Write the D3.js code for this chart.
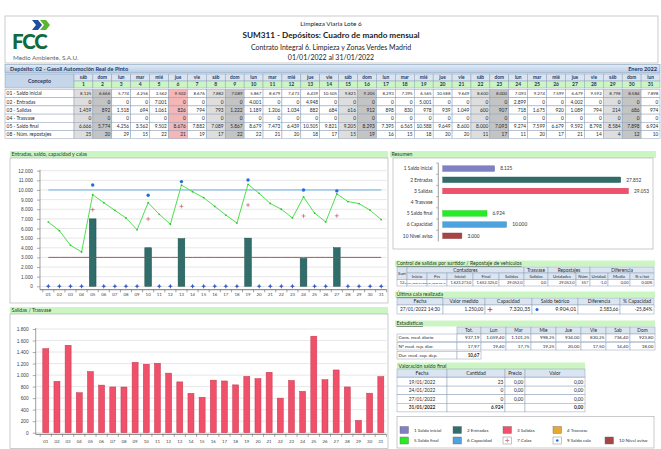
<!DOCTYPE html>
<html>
<head>
<meta charset="utf-8">
<script src="https://cdn.jsdelivr.net/npm/d3@7"></script>
<style>
html, body { margin: 0; padding: 0; background: #fff; }
svg { display: block; font-family: Lato, "Open Sans", "DejaVu Sans", sans-serif; }
</style>
</head>
<body>
<svg id="panel" width="661" height="449"></svg>
<script>
// ---- Datos del mes ----
const dias = [1,2,3,4,5,6,7,8,9,10,11,12,13,14,15,16,17,18,19,20,21,22,23,24,25,26,27,28,29,30,31];
const diasSemana = ["sáb","dom","lun","mar","mié","jue","vie","sáb","dom","lun","mar","mié","jue","vie","sáb","dom","lun","mar","mié","jue","vie","sáb","dom","lun","mar","mié","jue","vie","sáb","dom","lun"];
const festivos = [6];
const saldoInicial = [8125,6666,5774,4256,3562,9502,8676,7882,7089,5867,8679,7473,6439,10505,9821,9205,8293,7395,6565,10588,9649,8600,8000,7093,9274,7599,6679,9592,8798,8584,7898];
const entradas = [0,0,0,0,7001,0,0,0,0,4001,0,0,4948,0,0,0,0,0,5001,0,0,0,0,2899,0,0,4002,0,0,0,0];
const salidas = [1459,892,1518,694,1061,826,794,793,1222,1189,1206,1034,882,684,616,912,898,830,978,939,1049,600,907,718,1675,920,1089,794,214,686,974];
const trasvase = [0,0,0,0,0,0,0,0,0,0,0,0,0,0,0,0,0,0,0,0,0,0,0,0,0,0,0,0,0,0,0];
const saldoFinal = [6666,5774,4256,3562,9502,8676,7882,7089,5867,8679,7473,6439,10505,9821,9205,8293,7395,6565,10588,9649,8600,8000,7093,9274,7599,6679,9592,8798,8584,7898,6924];
const repostajes = [25,20,29,15,22,21,19,17,22,22,21,20,18,17,15,19,16,15,18,20,20,11,17,11,20,17,21,14,4,12,10];
const capacidad = 10000;
const nivelAviso = 3000;

// Calas: día, valor medido (+) y saldo teórico (•)
const diasCala = [5,10,13,19,24,27];
const valorCala = [7960,6990,8300,8440,7300,7320];
const saldoCala = [10520,9450,10870,11040,10000,9904];

const ticksTop = [0,1000,2000,3000,4000,5000,6000,7000,8000,9000,10000,11000,12000];
const ticksBottom = [0,200,400,600,800,1000,1200,1400,1600,1800];

const resumenEtiquetas = ["1 Saldo inicial","2 Entradas","3 Salidas","4 Trasvase","5 Saldo final","6 Capacidad","10 Nivel aviso"];
const resumenValores = [8125,27852,29053,0,6924,10000,3000];
const resumenColores = ["#8080c4","#2f6e6b","#f0506a","#e8a830","#22ee22","#4ea3df","#a84444"];

const controlCab1 = [["Contadores",1,6],["Trasvase",6,7],["Repostajes",7,9],["Diferencia",9,12]];
const controlCab2 = ["Inicio","Fin","Inicial","Final","Salidas","Salidas","Unidades","Núm","Unidad.","Media","% s/tot"];
const controlFila = ["12","01/01/2022 01:01","31/01/2022 06:46","1.623.273,0","1.652.325,0","29.052,0","0,0","29.053,0","557","-1,0","0,00","0,00%"];

const calaCab = ["Fecha","Valor medido","Capacidad","Saldo teórico","Diferencia","% Capacidad"];
const calaFila = ["27/01/2022 14:30","1.250,00","7.320,35","9.904,01","2.583,66","-25,84%"];

const estCab = ["","Tot.","Lun","Mar","Mie","Jue","Vie","Sab","Dom"];
const estConsumo = ["Cons. med. diario","937,19","1.059,40","1.101,25","998,25","934,00","830,25","736,40","923,80"];
const estRepost = ["Nº med. rep. diar.","17,97","19,40","17,75","19,25","20,00","17,50","14,40","18,00"];
const estDuracion = ["Dur. med. cap. dep.","10,67"];

const valCab = ["Fecha","Cantidad","Precio","Valor"];
const valFilas = [
  ["19/01/2022","23","0,00","0,00"],
  ["24/01/2022","0","0,00","0,00"],
  ["27/01/2022","0","0,00","0,00"],
  ["31/01/2022","6.924","","0,00"]
];

const leyenda = [
  {n:"1 Saldo inicial", c:"#8080c4", t:"sw"}, {n:"2 Entradas", c:"#2f6e6b", t:"sw"},
  {n:"3 Salidas", c:"#f0506a", t:"sw"}, {n:"4 Trasvase", c:"#e8a830", t:"sw"},
  {n:"5 Saldo final", c:"#22ee22", t:"sw"}, {n:"6 Capacidad", c:"#4ea3df", t:"sw"},
  {n:"7 Calas", c:"#c85a6a", t:"plus"}, {n:"9 Saldo cala", c:"#1a6fe0", t:"dot"},
  {n:"10 Nivel aviso", c:"#a84444", t:"sw"}
];

// ---- Utilidades ----
const es = d3.formatLocale({decimal: ",", thousands: ".", grouping: [3], currency: ["", " €"]});
const fInt = es.format(",.0f");
const svg = d3.select("#panel");
const GREEN = "#ccf5c4";
const HEAD = "#dbe5f1";
const BORDER = "#8ea0b8";

function cell(g, x0, x1, y0, y1, txt, o = {}) {
  g.append("rect").attr("x", x0).attr("y", y0).attr("width", x1 - x0).attr("height", y1 - y0)
    .attr("fill", o.fill || "#fff").attr("stroke", o.stroke || BORDER).attr("stroke-width", o.sw || 0.5);
  if (txt === null || txt === undefined || txt === "") return;
  const a = o.align || "center";
  const tx = a === "left" ? x0 + 1.6 : a === "right" ? x1 - 1.6 : (x0 + x1) / 2;
  g.append("text").attr("x", tx).attr("y", (y0 + y1) / 2).attr("dy", "0.36em")
    .attr("text-anchor", a === "left" ? "start" : a === "right" ? "end" : "middle")
    .attr("font-size", o.size || 5).attr("font-weight", o.bold ? "bold" : null)
    .attr("fill", o.color || "#2a2a2a").text(txt);
}

function band(x0, x1, y0, y1, txt, underline) {
  svg.append("rect").attr("x", x0).attr("y", y0).attr("width", x1 - x0).attr("height", y1 - y0).attr("fill", GREEN);
  svg.append("text").attr("x", x0 + 1.5).attr("y", (y0 + y1) / 2).attr("dy", "0.36em")
    .attr("font-size", 5.2).attr("fill", "#1f3a1f")
    .attr("text-decoration", underline ? "underline" : null).text(txt);
}

// ---- Cabecera ----
svg.append("rect").attr("x", 5).attr("y", 16).attr("width", 653).attr("height", 47)
  .attr("fill", "#fff").attr("stroke", "#b5b5b5").attr("stroke-width", 0.7);
// logotipo
svg.append("path").attr("d", "M32,20 L38,20 L42,25 L38,30 L32,30 L36,25 Z").attr("fill", "#1f4e9c");
svg.append("path").attr("d", "M40,20 L46,20 L50,25 L46,30 L40,30 L44,25 Z").attr("fill", "#5cb531");
svg.append("text").attr("x", 12).attr("y", 48.5).attr("font-size", 20.5).attr("font-weight", 900)
  .attr("fill", "#0d6b3f").attr("letter-spacing", -1.2).text("FCC");
svg.append("text").attr("x", 13).attr("y", 60).attr("font-size", 6.3).attr("fill", "#666").text("Medio Ambiente, S.A.U.");

const tituloY = [[24, 6.4, null, "Limpieza Viaria Lote 6"],
  [35.5, 8.2, "bold", "SUM311 - Depósitos: Cuadro de mando mensual"],
  [47, 7, null, "Contrato Integral 6. Limpieza y Zonas Verdes Madrid"],
  [57.5, 7, null, "01/01/2022 al 31/01/2022"]];
tituloY.forEach(([y, s, w, t]) => svg.append("text").attr("x", 331).attr("y", y).attr("dy", "0.36em")
  .attr("text-anchor", "middle").attr("font-size", s).attr("font-weight", w).attr("fill", "#222").text(t));

// barra del depósito
const grad = svg.append("defs").append("linearGradient").attr("id", "gDep").attr("x1", 0).attr("x2", 0).attr("y1", 0).attr("y2", 1);
grad.append("stop").attr("offset", 0).attr("stop-color", "#e3ebf5");
grad.append("stop").attr("offset", 1).attr("stop-color", "#b9cce4");
svg.append("rect").attr("x", 5).attr("y", 64.5).attr("width", 655).attr("height", 8.5)
  .attr("fill", "url(#gDep)").attr("stroke", "#7f9db9").attr("stroke-width", 0.6);
svg.append("text").attr("x", 10).attr("y", 68.8).attr("dy", "0.36em").attr("font-size", 5.6).attr("font-weight", "bold")
  .attr("fill", "#1f3864").text("Depósito: 02 - Gasoil Automoción Real de Pinto");
svg.append("text").attr("x", 657).attr("y", 68.8).attr("dy", "0.36em").attr("text-anchor", "end").attr("font-size", 5.6)
  .attr("font-weight", "bold").attr("fill", "#1f3864").text("Enero 2022");

// ---- Tabla diaria ----
const tabla = svg.append("g");
const cx0 = 5, cx1 = 74;
const xCol = d3.scaleBand().domain(dias).range([cx1, 660]);
cell(tabla, cx0, cx1, 74, 88, "Concepto", {fill: "#c5d5ea", bold: true, size: 5.4, color: "#1f3864"});
dias.forEach((d, i) => {
  const x0 = xCol(d), x1 = x0 + xCol.bandwidth();
  cell(tabla, x0, x1, 74, 81, diasSemana[i], {fill: HEAD, bold: true, size: 4.8, color: "#1f3864"});
  cell(tabla, x0, x1, 81, 88, String(d), {fill: GREEN, bold: true, size: 5, color: "#1f3864"});
});
const filas = [
  ["01 - Saldo inicial", saldoInicial, 4.4],
  ["02 - Entradas", entradas, 4.8],
  ["03 - Salidas", salidas, 4.8],
  ["04 - Trasvase", trasvase, 4.8],
  ["05 - Saldo final", saldoFinal, 4.8],
  ["08 - Núm. repostajes", repostajes, 4.8]
];
const rowH = 8.2, rowY0 = 89.5;
filas.forEach(([nombre, vals, fs], r) => {
  const y0 = rowY0 + r * rowH, y1 = y0 + rowH;
  cell(tabla, cx0, cx1, y0, y1, nombre, {align: "left", size: 4.9});
  dias.forEach((d, i) => {
    let fill = "#fff";
    if (diasSemana[i] === "sáb") fill = "#dedede";
    if (diasSemana[i] === "dom") fill = "#c4c4c4";
    if (festivos.includes(d)) fill = "#f4b6b6";
    cell(tabla, xCol(d), xCol(d) + xCol.bandwidth(), y0, y1, fInt(vals[i]), {align: "right", size: fs, fill});
  });
});

// ---- Gráfico: entradas, saldo, capacidad y calas ----
band(10, 388, 151, 158, "Entradas, saldo, capacidad y calas");
svg.append("rect").attr("x", 10).attr("y", 158).attr("width", 378).attr("height", 145)
  .attr("fill", "#fff").attr("stroke", "#a8a8a8").attr("stroke-width", 0.6);
const gTop = svg.append("g");
const xTop = d3.scaleBand().domain(dias).range([42.75, 386.75]);
const yTop = d3.scaleLinear().domain([0, 12000]).range([286.3, 170.7]);
const cTop = d => xTop(d) + xTop.bandwidth() / 2;

gTop.selectAll("line.grid").data(ticksTop).join("line")
  .attr("x1", 40).attr("x2", 386.7).attr("y1", d => yTop(d)).attr("y2", d => yTop(d))
  .attr("stroke", "#d6d6d6").attr("stroke-width", 0.6);
const axL = gTop.append("g").attr("transform", "translate(40,0)")
  .call(d3.axisLeft(yTop).tickValues(ticksTop).tickSize(3).tickPadding(4).tickFormat(fInt));
axL.select(".domain").remove();
axL.selectAll("line").attr("stroke", "#777").attr("stroke-width", 0.6);
axL.selectAll("text").attr("font-size", 4.8).attr("fill", "#444").attr("font-family", null);
gTop.append("line").attr("x1", 40).attr("x2", 40).attr("y1", 169.7).attr("y2", 290).attr("stroke", "#777").attr("stroke-width", 0.7);
gTop.append("line").attr("x1", 40).attr("x2", 386.7).attr("y1", 289.7).attr("y2", 289.7).attr("stroke", "#666").attr("stroke-width", 0.9);
gTop.selectAll("line.tk").data(dias.concat([32])).join("line")
  .attr("x1", d => d === 32 ? 386.75 : xTop(d)).attr("x2", d => d === 32 ? 386.75 : xTop(d))
  .attr("y1", 289.7).attr("y2", 292.3).attr("stroke", "#666").attr("stroke-width", 0.6);
gTop.selectAll("text.xl").data(dias).join("text")
  .attr("x", cTop).attr("y", 294.5).attr("dy", "0.36em").attr("text-anchor", "middle")
  .attr("font-size", 4.4).attr("fill", "#444").text(d => String(d).padStart(2, "0"));

const bwTop = 6.7;
gTop.selectAll("rect.ent").data(dias.filter((d, i) => entradas[i] > 0)).join("rect")
  .attr("x", d => cTop(d) - bwTop / 2).attr("width", bwTop)
  .attr("y", d => yTop(entradas[d - 1])).attr("height", d => yTop(0) - yTop(entradas[d - 1]))
  .attr("fill", "#2f6e6b").attr("stroke", "#1e4c4a").attr("stroke-width", 0.5);

const lineaCte = v => d3.line().x(cTop).y(() => yTop(v))(dias);
gTop.append("path").attr("d", lineaCte(nivelAviso)).attr("fill", "none").attr("stroke", "#a84444").attr("stroke-width", 0.9);
gTop.append("path").attr("d", lineaCte(capacidad)).attr("fill", "none").attr("stroke", "#5aa9e0").attr("stroke-width", 0.9);
gTop.append("path").attr("d", d3.line().x(cTop).y((d, i) => yTop(saldoFinal[i]))(dias))
  .attr("fill", "none").attr("stroke", "#4ee04e").attr("stroke-width", 1);
gTop.selectAll("circle.sf").data(dias).join("circle")
  .attr("cx", cTop).attr("cy", (d, i) => yTop(saldoFinal[i])).attr("r", 0.9).attr("fill", "#2fc42f");

// marcas en cero para los días sin entrada
const estrella4 = {draw(ctx, size) {
  const r = Math.sqrt(size), k = r * 0.32;
  ctx.moveTo(0, -r); ctx.lineTo(k, -k); ctx.lineTo(r, 0); ctx.lineTo(k, k);
  ctx.lineTo(0, r); ctx.lineTo(-k, k); ctx.lineTo(-r, 0); ctx.lineTo(-k, -k); ctx.closePath();
}};
gTop.selectAll("path.z").data(dias.filter((d, i) => entradas[i] === 0)).join("path")
  .attr("transform", d => `translate(${cTop(d)},${yTop(entradas[d - 1])})`)
  .attr("d", d3.symbol(estrella4, 6)).attr("fill", "#3a5cc0");

// calas
diasCala.forEach((d, i) => {
  const x = cTop(d), y = yTop(valorCala[i]);
  gTop.append("path").attr("d", `M${x - 2},${y}H${x + 2}M${x},${y - 2}V${y + 2}`).attr("stroke", "#c85a6a").attr("stroke-width", 0.7);
  gTop.append("circle").attr("cx", x).attr("cy", yTop(saldoCala[i])).attr("r", 1.7).attr("fill", "#1a6fe0");
});

// ---- Gráfico: salidas / trasvase ----
band(10, 388, 307, 314, "Salidas / Trasvase");
svg.append("rect").attr("x", 10).attr("y", 314).attr("width", 378).attr("height", 134.5)
  .attr("fill", "#fff").attr("stroke", "#a8a8a8").attr("stroke-width", 0.6);
const gBot = svg.append("g");
const xBot = d3.scaleBand().domain(dias).range([40.2, 386.4]);
const yBot = d3.scaleLinear().domain([0, 1800]).range([432.7, 329]);
const cBot = d => xBot(d) + xBot.bandwidth() / 2;
gBot.selectAll("line.grid").data(ticksBottom).join("line")
  .attr("x1", 35.7).attr("x2", 386.4).attr("y1", d => yBot(d)).attr("y2", d => yBot(d))
  .attr("stroke", "#d6d6d6").attr("stroke-width", 0.6);
const axB = gBot.append("g").attr("transform", "translate(35.7,0)")
  .call(d3.axisLeft(yBot).tickValues(ticksBottom).tickSize(3).tickPadding(4).tickFormat(fInt));
axB.select(".domain").remove();
axB.selectAll("line").attr("stroke", "#777").attr("stroke-width", 0.6);
axB.selectAll("text").attr("font-size", 4.8).attr("fill", "#444").attr("font-family", null);
gBot.append("line").attr("x1", 35.7).attr("x2", 35.7).attr("y1", 328).attr("y2", 434.5).attr("stroke", "#777").attr("stroke-width", 0.7);
gBot.append("line").attr("x1", 35.7).attr("x2", 386.4).attr("y1", 434.3).attr("y2", 434.3).attr("stroke", "#666").attr("stroke-width", 0.9);
gBot.selectAll("line.tk").data(dias.concat([32])).join("line")
  .attr("x1", d => d === 32 ? 386.4 : xBot(d)).attr("x2", d => d === 32 ? 386.4 : xBot(d))
  .attr("y1", 434.3).attr("y2", 436.8).attr("stroke", "#666").attr("stroke-width", 0.6);
gBot.selectAll("text.xl").data(dias).join("text")
  .attr("x", cBot).attr("y", 441).attr("dy", "0.36em").attr("text-anchor", "middle")
  .attr("font-size", 4.4).attr("fill", "#444").text(d => String(d).padStart(2, "0"));
const bwBot = 6;
gBot.selectAll("rect.sal").data(dias).join("rect")
  .attr("x", d => cBot(d) - bwBot / 2).attr("width", bwBot)
  .attr("y", (d, i) => yBot(salidas[i])).attr("height", (d, i) => yBot(0) - yBot(salidas[i]))
  .attr("fill", "#f0506a").attr("stroke", "#c23a50").attr("stroke-width", 0.5);

// ---- Resumen ----
band(390, 656, 151, 158, "Resumen");
svg.append("rect").attr("x", 393).attr("y", 158).attr("width", 260).attr("height", 91)
  .attr("fill", "#fff").attr("stroke", "#a8a8a8").attr("stroke-width", 0.6);
const gRes = svg.append("g");
const yRes = d3.scaleBand().domain(resumenEtiquetas).range([163, 241.4]).paddingInner(0.5).paddingOuter(0.25);
const xRes = d3.scaleLinear().domain([0, 30000]).range([442.7, 634.5]);
gRes.append("line").attr("x1", 438.3).attr("x2", 438.3).attr("y1", 163).attr("y2", 241.4).attr("stroke", "#777").attr("stroke-width", 0.7);
const stepRes = yRes.step();
resumenEtiquetas.forEach((e, i) => {
  const yc = yRes(e) + yRes.bandwidth() / 2;
  gRes.append("line").attr("x1", 436).attr("x2", 438.3).attr("y1", yc - stepRes / 2).attr("y2", yc - stepRes / 2).attr("stroke", "#777").attr("stroke-width", 0.5);
  gRes.append("text").attr("x", 432.5).attr("y", yc).attr("dy", "0.36em").attr("text-anchor", "end")
    .attr("font-size", 4.8).attr("fill", "#333").text(e);
  if (resumenValores[i] > 0) {
    gRes.append("rect").attr("x", xRes(0)).attr("y", yRes(e)).attr("width", xRes(resumenValores[i]) - xRes(0))
      .attr("height", yRes.bandwidth()).attr("fill", resumenColores[i]).attr("stroke", d3.color(resumenColores[i]).darker(0.6)).attr("stroke-width", 0.4);
    gRes.append("text").attr("x", xRes(resumenValores[i]) + 5.5).attr("y", yc).attr("dy", "0.36em")
      .attr("font-size", 4.8).attr("fill", "#333").text(fInt(resumenValores[i]));
  }
});

// ---- Control de salidas por surtidor ----
band(395, 655, 260.5, 266.5, "Control de salidas por surtidor / Repostaje de vehículos", true);
const gCtl = svg.append("g");
const ctlX = [397, 407, 427, 447, 473, 499, 524, 548, 576, 590, 608, 630, 654];
cell(gCtl, ctlX[0], ctlX[1], 267, 279.5, "Surt", {fill: HEAD, size: 4.3});
controlCab1.forEach(([t, a, b]) => cell(gCtl, ctlX[a], ctlX[b], 267, 273, t, {fill: HEAD, size: 4.8}));
controlCab2.forEach((t, i) => cell(gCtl, ctlX[i + 1], ctlX[i + 2], 273, 279.5, t, {fill: HEAD, size: 4.4}));
controlFila.forEach((t, i) => cell(gCtl, ctlX[i], ctlX[i + 1], 279.5, 286, t,
  {align: i === 0 ? "center" : "right", size: (i === 1 || i === 2) ? 2.5 : 3.9}));

// ---- Última cala realizada ----
band(395, 655, 291.5, 297.5, "Última cala realizada", true);
const gCala = svg.append("g");
const calaX = [397, 443, 485, 532, 578, 620, 654];
calaCab.forEach((t, i) => cell(gCala, calaX[i], calaX[i + 1], 298, 305, t, {fill: HEAD, size: 5}));
calaFila.forEach((t, i) => cell(gCala, calaX[i], calaX[i + 1], 305, 314, t,
  {align: i === 0 ? "center" : "right", size: (i === 2 || i === 3) ? 5.4 : 4.8}));
{
  const x = calaX[2] + 5, y = 309.5;
  gCala.append("path").attr("d", `M${x - 2.4},${y}H${x + 2.4}M${x},${y - 2.4}V${y + 2.4}`).attr("stroke", "#c0304a").attr("stroke-width", 0.8);
  gCala.append("circle").attr("cx", calaX[3] + 5).attr("cy", y).attr("r", 1.5).attr("fill", "#1a6fe0");
}

// ---- Estadísticas ----
band(395, 655, 320.5, 326.5, "Estadísticas", true);
const gEst = svg.append("g");
const estX = [397, 457, 481, 506, 531, 556, 581, 606, 630, 655];
estCab.forEach((t, i) => cell(gEst, estX[i], estX[i + 1], 327, 334, t, {fill: i === 0 ? "#fff" : HEAD, size: 4.8, stroke: i === 0 ? "none" : BORDER}));
estConsumo.forEach((t, i) => cell(gEst, estX[i], estX[i + 1], 334, 341.5, t, {align: i === 0 ? "left" : "right", size: 4.6}));
estRepost.forEach((t, i) => cell(gEst, estX[i], estX[i + 1], 342.5, 350, t, {align: i === 0 ? "left" : "right", size: 4.6}));
estDuracion.forEach((t, i) => cell(gEst, estX[i], estX[i + 1], 351.5, 359, t, {align: i === 0 ? "left" : "right", size: 4.6, bold: i === 1}));

// ---- Valoración saldo final ----
band(397, 585, 362.5, 369, "Valoración saldo final", false);
const gVal = svg.append("g");
const valX = [397, 447, 505, 525, 585];
valCab.forEach((t, i) => cell(gVal, valX[i], valX[i + 1], 369, 377, t, {fill: HEAD, size: 5}));
valFilas.forEach((fila, r) => {
  const y0 = 377.5 + r * 8.6, y1 = y0 + 8.6, ultima = r === valFilas.length - 1;
  fila.forEach((t, i) => cell(gVal, valX[i], valX[i + 1], y0, y1, t,
    {align: i === 0 ? "center" : "right", size: 4.8, bold: ultima && i !== 2}));
});

// ---- Leyenda ----
svg.append("rect").attr("x", 397).attr("y", 416.5).attr("width", 257).attr("height", 31.5)
  .attr("fill", "#fff").attr("stroke", "#a8a8a8").attr("stroke-width", 0.6);
const legX = [400, 453, 503, 553, 605];
const legPos = [[0,0],[1,0],[2,0],[3,0],[0,1],[1,1],[2,1],[3,1],[4,1]];
const gLeg = svg.append("g");
leyenda.forEach((it, i) => {
  const [c, r] = legPos[i];
  const x = legX[c], y = 430 + r * 10.5;
  if (it.t === "sw") {
    gLeg.append("rect").attr("x", x).attr("y", y - 3.5).attr("width", 8.5).attr("height", 7)
      .attr("fill", it.c).attr("stroke", "#666").attr("stroke-width", 0.4);
  } else {
    gLeg.append("rect").attr("x", x).attr("y", y - 3.5).attr("width", 8.5).attr("height", 7)
      .attr("fill", "#fff").attr("stroke", "#888").attr("stroke-width", 0.5);
    if (it.t === "plus") {
      gLeg.append("path").attr("d", `M${x + 2.2},${y}H${x + 6.3}M${x + 4.25},${y - 2.1}V${y + 2.1}`).attr("stroke", it.c).attr("stroke-width", 0.7);
    } else {
      gLeg.append("circle").attr("cx", x + 4.25).attr("cy", y).attr("r", 1.3).attr("fill", it.c);
    }
  }
  gLeg.append("text").attr("x", x + 14).attr("y", y).attr("dy", "0.36em").attr("font-size", 4.6).attr("fill", "#333").text(it.n);
});
</script>
</body>
</html>
